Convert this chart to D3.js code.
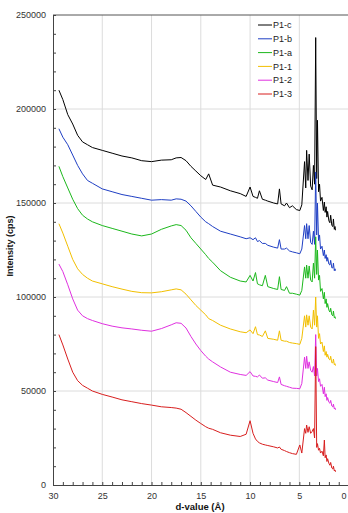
<!DOCTYPE html>
<html>
<head>
<meta charset="utf-8">
<script src="https://cdn.jsdelivr.net/npm/d3@7"></script>
<style>
  body { margin: 0; background: #fff; }
  svg { display: block; font-family: "Liberation Sans", Arial, sans-serif; }
</style>
</head>
<body>
<div id="chart"></div>
<script>
// d-spacing grid (Å), shared by all patterns
const dValues = [
  29.4, 29.0, 28.5, 28.0, 27.5, 27.0, 26.5, 26.0, 25.0, 24.0,
  23.0, 22.0, 21.0, 20.0, 19.0, 18.0, 17.5, 17.0, 16.5, 16.0,
  15.5, 15.0, 14.5, 14.2, 13.8, 13.0, 12.0, 11.0, 10.4, 10.0,
  9.7, 9.45, 9.25, 9.05, 8.75, 8.45, 8.2, 7.6, 7.2, 7.02,
  6.85, 6.5, 6.3, 6.0, 5.7, 5.3, 4.95, 4.75, 4.47, 4.35,
  4.26, 4.12, 4.0, 3.85, 3.7, 3.57, 3.45, 3.34, 3.24, 3.16,
  3.05, 2.95, 2.85, 2.7, 2.56, 2.46, 2.38, 2.28, 2.2, 2.13,
  2.0, 1.9, 1.82, 1.7, 1.6, 1.54, 1.45, 1.38, 1.33
];

const seriesNames = ['P1-c', 'P1-b', 'P1-a', 'P1-1', 'P1-2', 'P1-3'];

const p1c = [
  210000, 205000, 197000, 192000, 186000, 182500, 181000, 179500, 178000, 176500,
  175000, 174000, 172500, 172000, 172800, 173000, 174000, 174200, 172500, 169500,
  167000, 164500, 162500, 165500, 159500, 158500, 156500, 155000, 153500, 158500,
  153500, 153000, 152500, 156500, 152000, 151500, 151000, 150000, 149500, 157500,
  149500, 148500, 150000, 147500, 148500, 146500, 146000, 149000, 172000, 158000,
  178000, 162000, 176000, 159000, 157000, 170000, 160000, 238000, 163000, 194000,
  156000, 160000, 151000, 153000, 146000, 150500, 145000, 148000, 142500, 145500,
  140500, 139500, 143500, 138000, 137500, 141500, 136000, 137500, 135500
];
const p1b = [
  189500, 185000, 181000, 175500, 170000, 165500, 162000, 160500, 157500, 156000,
  154500, 153500, 152500, 151500, 151800, 151500, 152200, 152000, 151000, 148500,
  145500, 142500, 140000, 139000, 137500, 135000, 133500, 132000, 131000, 131500,
  130500, 131500, 129500, 130000, 128500, 128500, 127500, 126500, 126000, 130500,
  125500, 125500, 126000, 124500, 124000, 123500, 123000, 125500, 138000, 131000,
  139000, 131000, 138000, 129000, 128000, 135000, 128000, 166500, 133000, 150000,
  130000, 133000, 125500, 127000, 122000, 125000, 120500, 122500, 119000, 121000,
  117500, 117000, 119500, 115500, 115500, 118000, 114000, 115000, 114000
];
const p1a = [
  169500, 164000, 158000, 152000, 147000, 143500, 141500, 140000, 138000, 136500,
  135000, 133500, 132500, 133500, 136000, 137800, 138500, 138000, 135500, 131500,
  128500, 125500, 122500, 120500, 118500, 114000, 110500, 108500, 108000, 111500,
  108500, 113000, 107000, 106500, 106000, 111500, 105500, 104500, 104000, 110800,
  104000, 103500, 105500, 102000, 102000, 101500, 101000, 103500, 116000, 110000,
  117000, 110000, 116500, 109000, 108000, 118000, 110000, 132000, 112000, 125000,
  109000, 111500, 103000, 104500, 99000, 102500, 96500, 99000, 94500, 96500,
  93000, 92000, 94000, 90500, 90000, 92500, 89000, 89500, 88500
];
const p11 = [
  139000, 134000, 127000, 120000, 115000, 112000, 110000, 108500, 107000, 105500,
  104200, 103000, 102300, 102200, 102800, 103800, 104300, 103800, 101500, 98500,
  95500, 93000, 90500, 88500, 87500, 85000, 83000, 81500, 81000, 82500,
  80500, 84200, 80000, 79800, 79000, 82000, 78000, 77500, 77000, 82000,
  77000, 76500, 76500, 75800, 75500, 75200, 74800, 78000, 90000, 84000,
  90500, 85000, 90000, 84000, 83000, 93000, 85000, 100000, 84000, 90000,
  78000, 80500, 75000, 76000, 71000, 74000, 69000, 71000, 68000, 69500,
  67000, 66500, 68500, 65000, 65000, 67000, 64000, 64500, 63500
];
const p12 = [
  117500, 113500, 106500, 99000, 93000, 90000, 88500, 87500, 85800, 84500,
  83600, 83000, 82300, 81800, 83200, 85200, 86300, 86000, 83500, 79000,
  75000, 71500, 68500, 67000, 65500, 62800, 60000, 58800, 58300, 60300,
  58000, 57800, 57500, 58500, 56800, 57000, 55800, 55000, 54500, 57500,
  53500, 52800, 52500, 52000, 51500, 51400, 51200, 54000, 68000, 62000,
  68500, 62000, 65500, 61000, 60000, 63000, 58000, 80000, 58000, 62000,
  55000, 56500, 52500, 53500, 48500, 52000, 47000, 48500, 45000, 46500,
  44000, 43500, 45000, 42000, 41500, 43000, 40500, 41000, 40000
];
const p13 = [
  80000, 74500, 67000, 60000, 55500, 53000, 51500, 50000, 48200, 46800,
  45300, 44300, 43300, 42500, 41600, 41200, 40900, 40300, 38500, 36500,
  34500, 32700, 31000, 30200, 29600, 27800, 26500, 25800, 27000, 34200,
  27500, 24500, 23200, 22400, 21700, 21300, 21000, 20300, 19700, 20200,
  19000, 18300, 17800, 17200, 16700, 16300, 21300, 17000, 30000, 27500,
  31900, 28000, 31000, 27500, 28500, 30000, 25000, 73600, 20000, 22000,
  18500, 19500, 17000, 18000, 15500, 23900, 14500, 16000, 12500, 14000,
  11500, 10500, 12000, 9000, 8500, 10000, 7500, 8000, 7000
];

const seriesValues = [p1c, p1b, p1a, p11, p12, p13];
const seriesColors = ['#000000', '#1f3fc4', '#1cb81c', '#f2bf00', '#e030e0', '#d81e1e'];

const xTicks = [30, 25, 20, 15, 10, 5, 0];
const yTicks = [0, 50000, 100000, 150000, 200000, 250000];

const W = 348, H = 513;
const plot = { left: 53, right: 348.6, top: 15, bottom: 485 };

const svg = d3.select('#chart').append('svg')
  .attr('width', W)
  .attr('height', H);

const x = d3.scaleLinear().domain([30, 0]).range([plot.left, plot.right]);
const y = d3.scaleLinear().domain([0, 250000]).range([plot.bottom, plot.top]);

// gridlines
svg.append('g')
  .selectAll('line')
  .data(yTicks.slice(1, -1))
  .enter().append('line')
  .attr('x1', plot.left).attr('x2', plot.right)
  .attr('y1', d => y(d)).attr('y2', d => y(d))
  .attr('stroke', '#dcdcdc').attr('stroke-width', 1);

svg.append('g')
  .selectAll('line')
  .data(xTicks.slice(1, -1))
  .enter().append('line')
  .attr('x1', d => x(d)).attr('x2', d => x(d))
  .attr('y1', plot.top).attr('y2', plot.bottom)
  .attr('stroke', '#dcdcdc').attr('stroke-width', 1);

// top border
svg.append('line')
  .attr('x1', plot.left).attr('x2', plot.right)
  .attr('y1', y(250000)).attr('y2', y(250000))
  .attr('stroke', '#555').attr('stroke-width', 1);

// series, P1-c drawn first
const line = d3.line()
  .x((d, i) => x(dValues[i]))
  .y(d => y(d));

seriesValues.forEach((vals, k) => {
  svg.append('path')
    .datum(vals)
    .attr('fill', 'none')
    .attr('stroke', seriesColors[k])
    .attr('stroke-width', 1)
    .attr('stroke-linejoin', 'round')
    .attr('d', line);
});

// axes
const yAxis = svg.append('g')
  .attr('transform', `translate(${plot.left},0)`)
  .call(d3.axisLeft(y).tickValues(yTicks).tickSize(0).tickPadding(7).tickFormat(d3.format('d')));
yAxis.select('.domain').attr('stroke', '#444');
yAxis.selectAll('text').attr('fill', '#333').style('font-size', '9px');

svg.append('g')
  .attr('transform', `translate(${plot.left},0)`)
  .call(d3.axisLeft(y).tickValues(d3.range(0, 250001, 10000)).tickSize(-3).tickFormat(''))
  .call(g => g.select('.domain').remove())
  .selectAll('line').attr('stroke', '#444');

const xAxis = svg.append('g')
  .attr('transform', `translate(0,${plot.bottom})`)
  .call(d3.axisBottom(x).tickValues(xTicks.slice(0, -1)).tickSize(0).tickPadding(8));
xAxis.select('.domain').attr('stroke', '#444');
xAxis.selectAll('text').attr('fill', '#333').style('font-size', '9px');

// the "0" label sits right at the picture edge
svg.append('text')
  .attr('x', x(0) - 2)
  .attr('y', plot.bottom + 8)
  .attr('dy', '0.71em')
  .attr('text-anchor', 'end')
  .style('font-size', '9px')
  .attr('fill', '#333')
  .text('0');

svg.append('g')
  .attr('transform', `translate(0,${plot.bottom})`)
  .call(d3.axisBottom(x).tickValues(d3.range(0, 31, 1)).tickSize(-3).tickFormat(''))
  .call(g => g.select('.domain').remove())
  .selectAll('line').attr('stroke', '#444');

// axis titles
svg.append('text')
  .attr('transform', 'translate(13,246) rotate(-90)')
  .attr('text-anchor', 'middle')
  .style('font-size', '9px')
  .style('font-weight', 'bold')
  .attr('fill', '#111')
  .text('Intensity (cps)');

svg.append('text')
  .attr('x', 200)
  .attr('y', 510)
  .attr('text-anchor', 'middle')
  .style('font-size', '9.5px')
  .style('font-weight', 'bold')
  .attr('fill', '#111')
  .text('d-value (Å)');

// legend
const legend = svg.append('g').attr('transform', 'translate(258,25)');
seriesNames.forEach((name, k) => {
  const row = legend.append('g').attr('transform', `translate(0,${k * 13.8})`);
  row.append('line')
    .attr('x1', 0).attr('x2', 14)
    .attr('stroke', seriesColors[k]).attr('stroke-width', 1);
  row.append('text')
    .attr('x', 15)
    .attr('dy', '0.35em')
    .style('font-size', '9px')
    .attr('fill', '#222')
    .text(name);
});
</script>
</body>
</html>
